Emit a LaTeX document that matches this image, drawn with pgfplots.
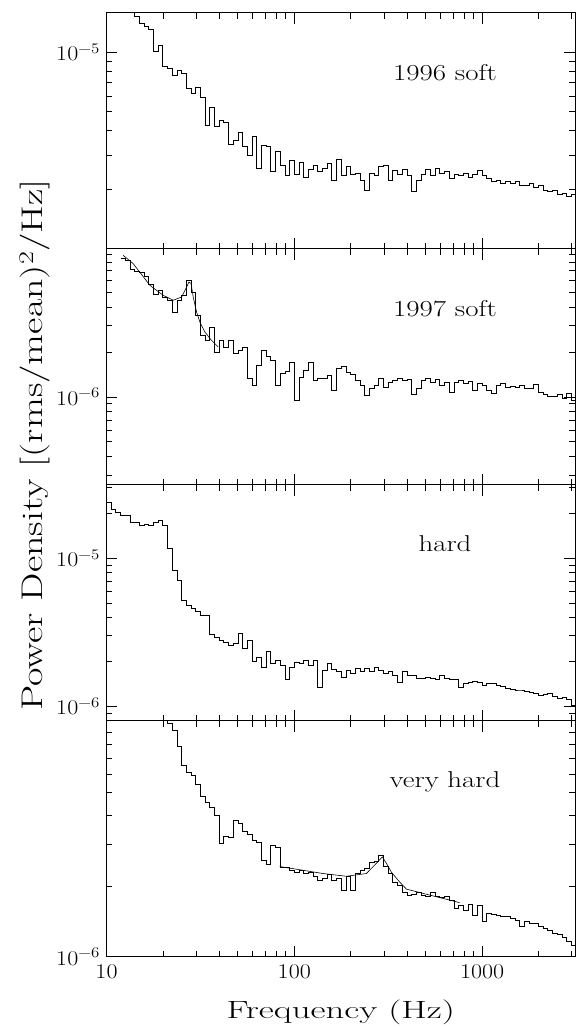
\documentclass[border=0pt]{standalone}
\usepackage{fontspec}
\usepackage{graphicx}
\usepackage{pgfplots}
\usepackage{pgfplotstable}
\pgfplotsset{compat=1.18}
\newcommand\tickfont{\fontsize{21}{25}\selectfont}
\newcommand\panelfont{\fontsize{23}{27}\selectfont}
\newcommand\xlabfont{\fontsize{25}{30}\selectfont}
\newcommand\ylabfont{\fontsize{30}{36}\selectfont}
\newcommand\tl[1]{\scalebox{1.15}[1]{#1}}
\newcommand\pl[1]{\scalebox{1.26}[1]{#1}}

\pgfplotstableread{
f p1 p2 p3 p4
10 2.4e-5 nan 2.4e-5 2.0e-5
10.59 2.2e-5 nan 2.15e-5 1.9e-5
11.22 2.0e-5 nan 2.05e-5 1.8e-5
11.89 1.9e-5 8.45e-6 1.96e-5 1.7e-5
12.59 1.8e-5 8.2e-6 1.96e-5 1.6e-5
13.34 1.7e-5 7.1e-6 1.76e-5 1.5e-5
14.13 1.53e-5 6.9e-6 1.76e-5 1.45e-5
14.96 1.41e-5 6.8e-6 1.68e-5 1.4e-5
15.85 1.36e-5 6.4e-6 1.7e-5 1.35e-5
16.79 1.31e-5 5.7e-6 1.68e-5 1.3e-5
17.78 1.01e-5 4.87e-6 1.76e-5 1.25e-5
18.84 1.08e-5 5.17e-6 1.79e-5 1.18e-5
19.95 8.5e-6 4.65e-6 1.68e-5 1.1e-5
21.13 8.26e-6 4.44e-6 1.17e-5 9.87e-6
22.39 7.66e-6 3.7e-6 8.3e-6 9.23e-6
23.71 8.06e-6 4.44e-6 7.14e-6 7.88e-6
25.12 7.82e-6 4.79e-6 5.23e-6 6.53e-6
26.61 6.58e-6 6.0e-6 4.84e-6 6.11e-6
28.18 6.14e-6 5.0e-6 4.6e-6 5.9e-6
29.85 6.66e-6 3.52e-6 4.35e-6 5.43e-6
31.62 5.9e-6 2.6e-6 4.14e-6 4.79e-6
33.50 4.22e-6 2.39e-6 4.14e-6 4.55e-6
35.48 5.25e-6 2.93e-6 3.08e-6 4.34e-6
37.58 4.18e-6 1.99e-6 2.94e-6 4.01e-6
39.81 4.49e-6 2.39e-6 2.81e-6 3.05e-6
42.17 4.38e-6 2.15e-6 2.72e-6 3.26e-6
44.67 3.41e-6 2.39e-6 2.6e-6 3.23e-6
47.32 3.54e-6 1.96e-6 2.65e-6 3.82e-6
50.12 3.93e-6 2.05e-6 3.13e-6 3.71e-6
53.09 3.3e-6 2.15e-6 2.48e-6 3.4e-6
56.23 3.0e-6 1.33e-6 2.81e-6 3.3e-6
59.57 3.71e-6 1.2e-6 2.0e-6 3.14e-6
63.10 2.55e-6 1.63e-6 2.15e-6 3.07e-6
66.83 3.37e-6 2.05e-6 1.84e-6 2.58e-6
70.79 3.33e-6 1.87e-6 2.34e-6 2.46e-6
74.99 2.47e-6 1.76e-6 1.96e-6 2.99e-6
79.43 3.12e-6 1.2e-6 2.06e-6 2.93e-6
84.14 2.65e-6 1.44e-6 1.9e-6 2.41e-6
89.13 2.35e-6 1.48e-6 1.51e-6 2.41e-6
94.41 2.8e-6 1.71e-6 1.84e-6 2.34e-6
100 2.4e-6 9.5e-7 1.99e-6 2.29e-6
105.9 2.75e-6 1.35e-6 1.96e-6 2.34e-6
112.2 2.32e-6 1.51e-6 2.06e-6 2.27e-6
118.9 2.52e-6 1.69e-6 1.9e-6 2.29e-6
125.9 2.67e-6 1.29e-6 2.06e-6 2.2e-6
133.4 2.47e-6 1.33e-6 1.35e-6 2.12e-6
141.3 2.57e-6 1.33e-6 1.76e-6 2.16e-6
149.6 2.73e-6 1.39e-6 1.96e-6 2.25e-6
158.5 2.24e-6 1.11e-6 1.78e-6 2.12e-6
167.9 2.86e-6 1.56e-6 1.71e-6 2.16e-6
177.8 2.35e-6 1.6e-6 1.58e-6 1.92e-6
188.4 2.61e-6 1.46e-6 1.76e-6 2.2e-6
199.5 2.38e-6 1.42e-6 1.68e-6 1.92e-6
211.3 2.43e-6 1.29e-6 1.8e-6 2.27e-6
223.9 2.24e-6 1.2e-6 1.71e-6 2.34e-6
237.1 1.97e-6 1.03e-6 1.8e-6 2.38e-6
251.2 2.43e-6 1.14e-6 1.71e-6 2.53e-6
266.1 2.35e-6 1.2e-6 1.84e-6 2.55e-6
281.8 2.61e-6 1.33e-6 1.76e-6 2.7e-6
298.5 2.67e-6 1.16e-6 1.68e-6 2.42e-6
316.2 2.24e-6 1.25e-6 1.71e-6 2.27e-6
335.0 2.5e-6 1.29e-6 1.63e-6 2.08e-6
354.8 2.38e-6 1.33e-6 1.46e-6 2.02e-6
375.8 2.52e-6 1.29e-6 1.73e-6 1.87e-6
398.1 2.35e-6 1.31e-6 1.63e-6 1.83e-6
421.7 1.95e-6 1.04e-6 1.63e-6 1.85e-6
446.7 2.24e-6 1.14e-6 1.55e-6 1.87e-6
473.2 2.4e-6 1.29e-6 1.55e-6 1.83e-6
501.2 2.52e-6 1.33e-6 1.58e-6 1.8e-6
530.9 2.35e-6 1.25e-6 1.55e-6 1.87e-6
562.3 2.55e-6 1.31e-6 1.51e-6 1.8e-6
595.7 2.43e-6 1.2e-6 1.63e-6 1.78e-6
631.0 2.47e-6 1.25e-6 1.55e-6 1.81e-6
668.3 2.29e-6 1.07e-6 1.53e-6 1.74e-6
707.9 2.4e-6 1.25e-6 1.53e-6 1.6e-6
749.9 2.35e-6 1.29e-6 1.35e-6 1.66e-6
794.3 2.43e-6 1.23e-6 1.44e-6 1.58e-6
841.4 2.32e-6 1.27e-6 1.46e-6 1.67e-6
891.3 2.38e-6 1.11e-6 1.48e-6 1.5e-6
944.1 2.5e-6 1.23e-6 1.46e-6 1.66e-6
1000 2.35e-6 1.2e-6 1.39e-6 1.42e-6
1059 2.29e-6 1.11e-6 1.44e-6 1.53e-6
1122 2.21e-6 1.06e-6 1.42e-6 1.52e-6
1189 2.24e-6 1.2e-6 1.39e-6 1.5e-6
1259 2.16e-6 1.23e-6 1.37e-6 1.49e-6
1334 2.21e-6 1.16e-6 1.33e-6 1.48e-6
1413 2.14e-6 1.18e-6 1.31e-6 1.45e-6
1496 2.19e-6 1.16e-6 1.29e-6 1.43e-6
1585 2.11e-6 1.2e-6 1.29e-6 1.34e-6
1679 2.09e-6 1.14e-6 1.27e-6 1.41e-6
1778 2.14e-6 1.14e-6 1.25e-6 1.39e-6
1884 2.04e-6 1.22e-6 1.23e-6 1.38e-6
1995 2.09e-6 1.07e-6 1.19e-6 1.35e-6
2113 1.99e-6 1.04e-6 1.21e-6 1.32e-6
2239 1.95e-6 1.01e-6 1.23e-6 1.3e-6
2371 1.97e-6 1.01e-6 1.16e-6 1.26e-6
2512 1.88e-6 1.04e-6 1.14e-6 1.24e-6
2661 1.92e-6 9.8e-7 1.15e-6 1.21e-6
2818 1.84e-6 1.06e-6 1.12e-6 1.16e-6
2985 1.9e-6 9.5e-7 1.02e-6 1.12e-6
3162 1.9e-6 9.5e-7 1.02e-6 1.12e-6
}\spec

\begin{document}
\begin{tikzpicture}
\useasboundingbox (0,0) rectangle (580bp,-1027bp);

\begin{axis}[at={(106.5bp,-12.7bp)}, anchor=north west,
  width=468.5bp, height=236bp, scale only axis,
  xmode=log, ymode=log, xmin=10, xmax=3125,
  xtick={10,100,1000},
  minor xtick={20,30,40,50,60,70,80,90,200,300,400,500,600,700,800,900,2000,3000},
  xticklabels={},
  minor ytick={2e-7,3e-7,4e-7,5e-7,6e-7,7e-7,8e-7,9e-7,2e-6,3e-6,4e-6,5e-6,6e-6,7e-6,8e-6,9e-6,2e-5,3e-5,4e-5,5e-5,6e-5,7e-5,8e-5,9e-5},
  axis line style={line width=0.9bp},
  major tick length=11bp, minor tick length=6bp,
  tick align=inside, tick style={black, line width=0.7bp},
  tick label style={font=\tickfont},
  yticklabel style={xshift=-3bp}, xticklabel style={yshift=-4bp},
  ymin=1e-6, ymax=1.59e-5, ytick={1e-5}, yticklabels={\tl{10\textsuperscript{−5}}}]
\addplot[const plot, black, line width=0.8bp] table[x=f, y=p1] {\spec};
\end{axis}

\begin{axis}[at={(106.5bp,-248.7bp)}, anchor=north west,
  width=468.5bp, height=236bp, scale only axis,
  xmode=log, ymode=log, xmin=10, xmax=3125,
  xtick={10,100,1000},
  minor xtick={20,30,40,50,60,70,80,90,200,300,400,500,600,700,800,900,2000,3000},
  xticklabels={},
  minor ytick={2e-7,3e-7,4e-7,5e-7,6e-7,7e-7,8e-7,9e-7,2e-6,3e-6,4e-6,5e-6,6e-6,7e-6,8e-6,9e-6,2e-5,3e-5,4e-5,5e-5,6e-5,7e-5,8e-5,9e-5},
  axis line style={line width=0.9bp},
  major tick length=11bp, minor tick length=6bp,
  tick align=inside, tick style={black, line width=0.7bp},
  tick label style={font=\tickfont},
  yticklabel style={xshift=-3bp}, xticklabel style={yshift=-4bp},
  ymin=2.58e-7, ymax=9.83e-6, ytick={1e-6}, yticklabels={\tl{10\textsuperscript{−6}}}]
\addplot[const plot, black, line width=0.8bp] table[x=f, y=p2] {\spec};
\addplot[sharp plot, black, line width=0.6bp] coordinates {
(12.28,8.87e-6) (13.88,7.8e-6) (17.03,5.59e-6) (20.04,4.79e-6) (22.66,4.44e-6)
(25.12,4.67e-6) (26.71,5.44e-6) (27.47,5.88e-6) (28.2,5.76e-6) (28.95,4.67e-6)
(30.18,3.7e-6) (31.42,3.17e-6) (33.42,2.72e-6) (36.27,2.39e-6) (39.33,2.16e-6)};
\end{axis}

\begin{axis}[at={(106.5bp,-484.7bp)}, anchor=north west,
  width=468.5bp, height=236bp, scale only axis,
  xmode=log, ymode=log, xmin=10, xmax=3125,
  xtick={10,100,1000},
  minor xtick={20,30,40,50,60,70,80,90,200,300,400,500,600,700,800,900,2000,3000},
  xticklabels={},
  minor ytick={2e-7,3e-7,4e-7,5e-7,6e-7,7e-7,8e-7,9e-7,2e-6,3e-6,4e-6,5e-6,6e-6,7e-6,8e-6,9e-6,2e-5,3e-5,4e-5,5e-5,6e-5,7e-5,8e-5,9e-5},
  axis line style={line width=0.9bp},
  major tick length=11bp, minor tick length=6bp,
  tick align=inside, tick style={black, line width=0.7bp},
  tick label style={font=\tickfont},
  yticklabel style={xshift=-3bp}, xticklabel style={yshift=-4bp},
  ymin=8e-7, ymax=3.14e-5, ytick={1e-6,1e-5}, yticklabels={\tl{10\textsuperscript{−6}},\tl{10\textsuperscript{−5}}}]
\addplot[const plot, black, line width=0.8bp] table[x=f, y=p3] {\spec};
\end{axis}

\begin{axis}[at={(106.5bp,-720.7bp)}, anchor=north west,
  width=468.5bp, height=236bp, scale only axis,
  xmode=log, ymode=log, xmin=10, xmax=3125,
  xtick={10,100,1000},
  minor xtick={20,30,40,50,60,70,80,90,200,300,400,500,600,700,800,900,2000,3000},
  xticklabels={\tl{10},\tl{100},\tl{1000}},
  minor ytick={2e-7,3e-7,4e-7,5e-7,6e-7,7e-7,8e-7,9e-7,2e-6,3e-6,4e-6,5e-6,6e-6,7e-6,8e-6,9e-6,2e-5,3e-5,4e-5,5e-5,6e-5,7e-5,8e-5,9e-5},
  axis line style={line width=0.9bp},
  major tick length=11bp, minor tick length=6bp,
  tick align=inside, tick style={black, line width=0.7bp},
  tick label style={font=\tickfont},
  yticklabel style={xshift=-3bp}, xticklabel style={yshift=-4bp},
  ymin=1e-6, ymax=1.01e-5, ytick={1e-6}, yticklabels={\tl{10\textsuperscript{−6}}}]
\addplot[const plot, black, line width=0.8bp] table[x=f, y=p4] {\spec};
\addplot[sharp plot, black, line width=0.6bp] coordinates {
(83.7,2.42e-6) (142.3,2.26e-6) (189.6,2.2e-6) (242,2.26e-6) (273.8,2.5e-6)
(294.4,2.66e-6) (309.3,2.5e-6) (328.9,2.29e-6) (364,2.08e-6) (395.5,1.94e-6)
(526,1.83e-6) (758.6,1.7e-6)};
\end{axis}

\node[anchor=base, font=\panelfont] at (445bp,-80bp) {\pl{1996 soft}};
\node[anchor=base, font=\panelfont] at (445bp,-316bp) {\pl{1997 soft}};
\node[anchor=base, font=\panelfont] at (445bp,-551.7bp) {\pl{hard}};
\node[anchor=base, font=\panelfont] at (445bp,-787.3bp) {\pl{very hard}};

\node[anchor=base, font=\xlabfont] at (340.75bp,-1018bp) {\scalebox{1.48}[1]{Frequency (Hz)}};
\node[anchor=base, rotate=90, font=\ylabfont] at (42bp,-445bp) {\scalebox{1.34}[1]{Power Density [(rms/mean)\textsuperscript{2}/Hz]}};
\end{tikzpicture}
\end{document}
